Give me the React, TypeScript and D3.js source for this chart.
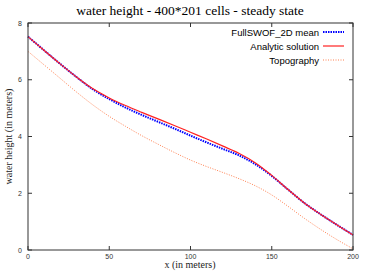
import React from "react";
import * as d3 from "d3";

const xs = [0, 10, 20, 30, 40, 50, 60, 70, 80, 90, 100, 110, 120, 130, 140, 150, 160, 170, 180, 190, 200];
const analytic = [7.52, 7.03, 6.55, 6.09, 5.68, 5.36, 5.09, 4.85, 4.62, 4.39, 4.15, 3.91, 3.66, 3.4, 3.07, 2.63, 2.13, 1.66, 1.26, 0.89, 0.53];
const fullswof = [7.52, 7.03, 6.55, 6.09, 5.66, 5.32, 5.02, 4.76, 4.52, 4.28, 4.03, 3.79, 3.56, 3.33, 3.02, 2.61, 2.13, 1.66, 1.26, 0.89, 0.53];
const topography = [7.0, 6.52, 6.04, 5.56, 5.11, 4.71, 4.36, 4.03, 3.73, 3.44, 3.17, 2.94, 2.73, 2.51, 2.26, 1.94, 1.54, 1.12, 0.73, 0.37, 0.04];
const xTicks = [0, 50, 100, 150, 200];
const yTicks = [0, 2, 4, 6, 8];
const legendLabels = ["FullSWOF_2D mean", "Analytic solution", "Topography"];

const W = 366, H = 273;
const L = 28, R = 353, T = 23, B = 250;

export default function App() {
  const x = d3.scaleLinear().domain([0, 200]).range([L, R]);
  const y = d3.scaleLinear().domain([0, 8]).range([B, T]);
  const mk = (vals: number[]) =>
    d3.line<number>().x((_, i) => x(xs[i])).y((d) => y(d)).curve(d3.curveCatmullRom.alpha(0.5))(vals) || "";
  const series = [
    { vals: fullswof, color: "#0000ff", w: 2, dash: "1.5 1" },
    { vals: analytic, color: "#ff2020", w: 1.2, dash: "" },
    { vals: topography, color: "#ff8050", w: 1, dash: "1 1.5" },
  ];
  const sans = "'Liberation Sans', Arial, sans-serif";
  const serif = "'Liberation Serif', 'Times New Roman', serif";
  return (
    <svg width={W} height={H} style={{ position: "absolute", left: 0, top: 0, background: "#fff" }}>
      <text x={190} y={15} textAnchor="middle" fontFamily={serif} fontSize={13.5} fill="#000">
        water height - 400*201 cells - steady state
      </text>
      {series.map((s, i) => (
        <path key={i} d={mk(s.vals)} fill="none" stroke={s.color} strokeWidth={s.w} strokeDasharray={s.dash || undefined} />
      ))}
      <rect x={L} y={T} width={R - L} height={B - T} fill="none" stroke="#333" strokeWidth={1} />
      {xTicks.map((t) => (
        <g key={"x" + t}>
          <line x1={x(t)} x2={x(t)} y1={B} y2={B - 4} stroke="#333" />
          <line x1={x(t)} x2={x(t)} y1={T} y2={T + 4} stroke="#333" />
          <text x={x(t)} y={B + 9} textAnchor="middle" fontFamily={sans} fontSize={7} fill="#333">{t}</text>
        </g>
      ))}
      {yTicks.map((t) => (
        <g key={"y" + t}>
          <line x1={L} x2={L + 4} y1={y(t)} y2={y(t)} stroke="#333" />
          <line x1={R} x2={R - 4} y1={y(t)} y2={y(t)} stroke="#333" />
          <text x={L - 6} y={y(t) + 2.5} textAnchor="end" fontFamily={sans} fontSize={7} fill="#333">{t}</text>
        </g>
      ))}
      <text x={190} y={268} textAnchor="middle" fontFamily={serif} fontSize={10} fill="#222">x (in meters)</text>
      <text transform={`translate(12,${(T + B) / 2}) rotate(-90)`} textAnchor="middle" fontFamily={serif} fontSize={10} fill="#222">
        water height (in meters)
      </text>
      {legendLabels.map((lab, i) => {
        const ly = 32 + i * 14;
        const s = series[i];
        return (
          <g key={lab}>
            <text x={319} y={ly + 3.5} textAnchor="end" fontFamily={sans} fontSize={9.5} fill="#000">{lab}</text>
            <line x1={323} x2={344} y1={ly} y2={ly} stroke={s.color} strokeWidth={s.w} strokeDasharray={s.dash || undefined} />
          </g>
        );
      })}
    </svg>
  );
}
